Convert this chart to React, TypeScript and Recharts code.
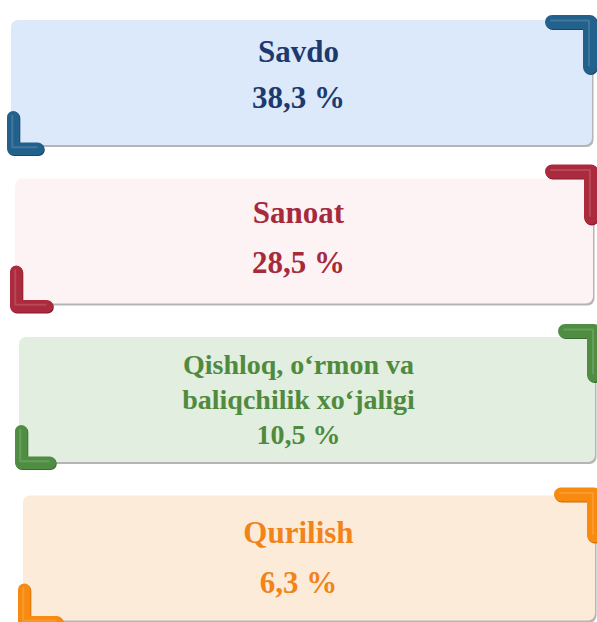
import { BarChart, Bar, XAxis, YAxis } from 'recharts'

const categories = ['Savdo', 'Sanoat', 'Qishloq, o‘rmon va\nbaliqchilik xo‘jaligi', 'Qurilish']
const shares = [38.3, 28.5, 10.5, 6.3]

const data = categories.map((name, i) => ({ name, share: shares[i] }))

// per-card look: colours, horizontal inset, text placement, corner brackets
interface CardStyle {
  fill: string
  ink: string
  accent: string
  dark: string
  left: number
  right: number
  font: number
  gap: number
  shift: number
  tr: [number, number, number, number] // lift above card, overhang right, arm x, arm y
  bl: [number, number, number, number] // drop below card, overhang left, arm x, arm y
}

const cardStyles: CardStyle[] = [
  { fill: '#dce9fb', ink: '#1c3a6e', accent: '#22618c', dark: '#174669', left: 11, right: 5, font: 31, gap: 46, shift: 2,
    tr: [5, 5, 52, 59], bl: [10, 4, 37, 44] },
  { fill: '#fdf3f4', ink: '#a62a3c', accent: '#ab2a3d', dark: '#801c2b', left: 15, right: 4, font: 31, gap: 50, shift: 6.5,
    tr: [14, 5, 53, 60], bl: [9, 5, 43, 47] },
  { fill: '#e2eedf', ink: '#4f8a3e', accent: '#4f8e42', dark: '#3a6b30', left: 19, right: 2, font: 28, gap: 35, shift: 9.5,
    tr: [13, 6, 43, 58], bl: [7, 4, 41, 44] },
  { fill: '#fdebd9', ink: '#f0841a', accent: '#f88a10', dark: '#c96a05', left: 23, right: 2, font: 31, gap: 50, shift: 9.5,
    tr: [8, 6, 47, 55], bl: [8, 5, 45, 45] },
]

const formatShare = (v: number) => `${v.toFixed(1).replace('.', ',')} %`

function Bracket({ d, c, t }: { d: string; c: CardStyle; t: number }) {
  return (
    <g>
      <path d={d} fill="none" stroke={c.dark} strokeWidth={t} strokeLinecap="round" strokeLinejoin="round"
        transform="translate(0.8,1)" />
      <path d={d} fill="none" stroke={c.accent} strokeWidth={t} strokeLinecap="round" strokeLinejoin="round" />
      <path d={d} fill="none" stroke="#ffffff" strokeOpacity={0.14} strokeWidth={2} strokeLinecap="round" strokeLinejoin="round"
        transform="translate(-1,-1.5)" />
    </g>
  )
}

function Card(props: any) {
  const { x, y, width, height, index } = props
  const c = cardStyles[index]
  const left = x + c.left
  const right = x + width - c.right
  const top = y
  const bottom = y + height
  const cx = x + width / 2
  const lines = [...categories[index].split('\n'), formatShare(shares[index])]
  const mid = top + height / 2 + c.shift

  const t1 = 14
  const [lift, ovR, hR, vR] = c.tr
  const R = right + ovR - t1 / 2
  const T = top - lift + t1 / 2
  const trPath = `M${right + ovR - hR + t1 / 2},${T} L${R},${T} L${R},${top - lift + vR - t1 / 2}`

  const t2 = 12.5
  const [drop, ovL, hL, vL] = c.bl
  const L = left - ovL + t2 / 2
  const B = bottom + drop - t2 / 2
  const blPath = `M${L},${bottom + drop - vL + t2 / 2} L${L},${B} L${left - ovL + hL - t2 / 2},${B}`

  return (
    <g>
      <rect x={left + 1.5} y={top + 2} width={right - left} height={bottom - top} rx={7} fill="#9c9c9c" fillOpacity={0.75} />
      <rect x={left} y={top} width={right - left} height={bottom - top} rx={7} fill={c.fill} />
      <Bracket d={trPath} c={c} t={t1} />
      <Bracket d={blPath} c={c} t={t2} />
      {lines.map((line, i) => (
        <text
          key={i}
          x={cx}
          y={mid + (i - (lines.length - 1) / 2) * c.gap}
          textAnchor="middle"
          fontFamily="'Liberation Serif', 'Times New Roman', serif"
          fontWeight="bold"
          fontSize={c.font}
          fill={c.ink}
        >
          {line}
        </text>
      ))}
    </g>
  )
}

export default function App() {
  return (
    <div style={{ width: 597, height: 622, overflow: 'hidden', background: '#ffffff' }}>
      <style>{'body{margin:0}'}</style>
      <BarChart
        width={597}
        height={640}
        data={data}
        layout="vertical"
        margin={{ top: 3, right: 0, bottom: 3, left: 0 }}
      >
        <XAxis type="number" domain={[0, 100]} hide />
        <YAxis type="category" dataKey="name" hide />
        <Bar
          dataKey="share"
          barSize={125}
          isAnimationActive={false}
          background={(p: any) => <Card {...p} />}
          shape={() => <g />}
        />
      </BarChart>
    </div>
  )
}
